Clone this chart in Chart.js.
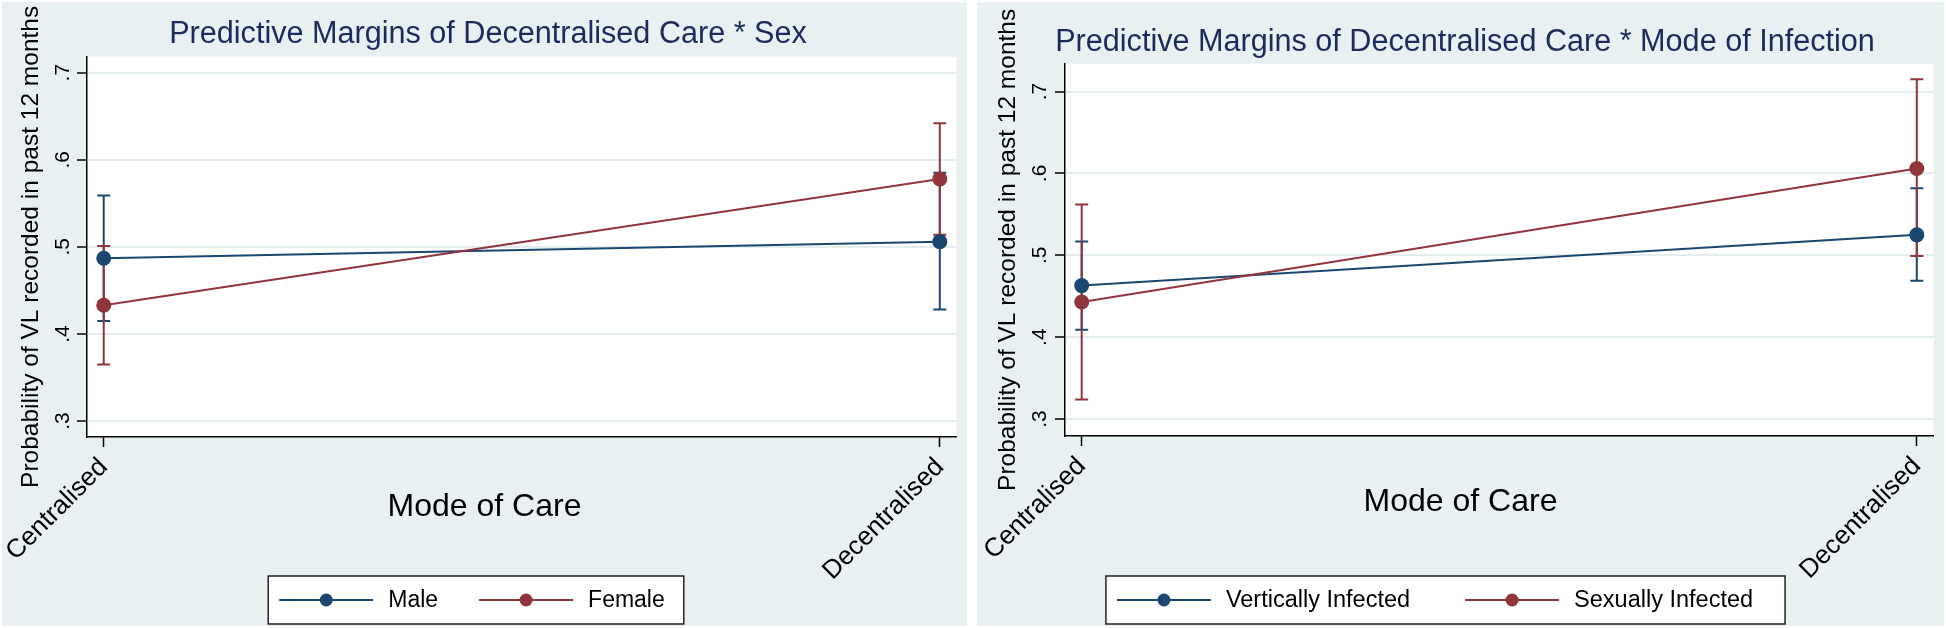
<!DOCTYPE html>
<html>
<head>
<meta charset="utf-8">
<script src="https://cdn.jsdelivr.net/npm/chart.js@4.4.0/dist/chart.umd.min.js"></script>
<style>
html, body { margin: 0; padding: 0; background: #fff; }
body { width: 1946px; height: 628px; position: relative; overflow: hidden; }
.panel { position: absolute; top: 2px; height: 624px; }
#sexPanel { left: 2px; width: 965px; }
#infectionPanel { left: 977px; width: 967px; }
</style>
</head>
<body>
<div class="panel" id="sexPanel"><canvas id="sexChart"></canvas></div>
<div class="panel" id="infectionPanel"><canvas id="infectionChart"></canvas></div>
<script>
// categories and tick labels
var careLevels = ['Centralised', 'Decentralised'];
var yTickValues = [0.3, 0.4, 0.5, 0.6, 0.7];
var yTickLabels = ['.3', '.4', '.5', '.6', '.7'];

// left panel: sex
var sexGroups = ['Male', 'Female'];
var sexMargins = [[0.487, 0.506], [0.433, 0.578]];
var sexLower   = [[0.415, 0.428], [0.365, 0.514]];
var sexUpper   = [[0.559, 0.585], [0.501, 0.642]];

// right panel: mode of infection
var infectionGroups = ['Vertically Infected', 'Sexually Infected'];
var infectionMargins = [[0.463, 0.525], [0.443, 0.606]];
var infectionLower   = [[0.409, 0.469], [0.324, 0.499]];
var infectionUpper   = [[0.517, 0.582], [0.562, 0.715]];

var seriesColors = ['#1a476f', '#90353b'];
var fontFamily = "'Liberation Sans', Arial, Helvetica, sans-serif";
Chart.defaults.font.family = fontFamily;

// background, white plot region, x axis title and the framed legend (line + marker keys)
var panelDecor = {
    id: 'panelDecor',
    beforeDraw: function(chart) {
        var ctx = chart.ctx, a = chart.chartArea;
        ctx.save();
        ctx.fillStyle = '#e8f0f2';
        ctx.fillRect(0, 0, chart.width, chart.height);
        ctx.fillStyle = '#ffffff';
        ctx.fillRect(a.left, a.top, a.right - a.left, a.bottom - a.top);
        ctx.restore();
    },
    afterDraw: function(chart, args, opts) {
        var ctx = chart.ctx;
        ctx.save();
        ctx.fillStyle = '#000';
        ctx.font = '32px ' + fontFamily;
        ctx.textAlign = 'center';
        ctx.textBaseline = 'middle';
        ctx.fillText(opts.xTitle, chart.width / 2, chart.chartArea.bottom + opts.xTitleOffset);

        // legend
        var keyLen = 94, keyGap = 15;
        var mains = chart.data.datasets.filter(d => d.isMain);
        ctx.font = opts.legendFont + 'px ' + fontFamily;
        var widths = mains.map(d => keyLen + keyGap + ctx.measureText(d.label).width);
        var total = widths.reduce((s, w) => s + w, 0) + opts.legendGap * (mains.length - 1);
        var x = opts.legendCenter - total / 2, cy = opts.legendY;
        var bx = x - 11, bw = total + 11 + opts.boxRight;
        ctx.fillStyle = '#fff';
        ctx.fillRect(bx, cy - 24, bw, 48);
        ctx.strokeStyle = '#222';
        ctx.lineWidth = 1.5;
        ctx.strokeRect(bx, cy - 24, bw, 48);
        mains.forEach(function(d, k) {
            ctx.strokeStyle = d.borderColor;
            ctx.lineWidth = 2;
            ctx.beginPath(); ctx.moveTo(x, cy); ctx.lineTo(x + keyLen, cy); ctx.stroke();
            ctx.fillStyle = d.borderColor;
            ctx.beginPath(); ctx.arc(x + keyLen / 2, cy, 6.5, 0, Math.PI * 2); ctx.fill();
            ctx.fillStyle = '#000';
            ctx.textAlign = 'left';
            ctx.fillText(d.label, x + keyLen + keyGap, cy + 1);
            x += widths[k] + opts.legendGap;
        });
        ctx.restore();
    }
};

function makeChart(canvasId, cfg) {
    var datasets = [];
    // main series first so they are drawn over the confidence intervals
    for (let s = 0; s < cfg.groups.length; s++) {
        datasets.push({
            label: cfg.groups[s],
            isMain: true,
            order: cfg.groups.length - 1 - s,
            data: careLevels.map((c, i) => ({x: i, y: cfg.margins[s][i]})),
            borderColor: seriesColors[s],
            backgroundColor: seriesColors[s],
            borderWidth: 2,
            pointRadius: 7.5,
            pointBorderWidth: 0
        });
    }
    for (let s = 0; s < cfg.groups.length; s++) {
        for (let i = 0; i < careLevels.length; i++) {
            datasets.push({
                label: cfg.groups[s] + ' CI',
                isMain: false,
                order: 10 + cfg.groups.length - 1 - s,
                data: [{x: i, y: cfg.lower[s][i]}, {x: i, y: cfg.upper[s][i]}],
                borderColor: seriesColors[s],
                borderWidth: 2,
                pointStyle: 'line',
                pointRadius: 6.5,
                pointBorderWidth: 2,
                pointBorderColor: seriesColors[s]
            });
        }
    }

    return new Chart(document.getElementById(canvasId), {
        type: 'line',
        data: {datasets: datasets},
        plugins: [panelDecor],
        options: {
            responsive: true,
            maintainAspectRatio: false,
            animation: false,
            events: [],
            layout: {autoPadding: false, padding: {left: cfg.padLeft, right: 7, top: 0, bottom: 0}},
            scales: {
                x: {
                    type: 'linear',
                    min: -0.02,
                    max: 1.02,
                    afterBuildTicks: function(scale) { scale.ticks = careLevels.map((c, i) => ({value: i})); },
                    afterFit: function(scale) { scale.height = cfg.xAxisHeight; },
                    ticks: {
                        autoSkip: false,
                        minRotation: 45,
                        maxRotation: 45,
                        padding: 5,
                        color: '#000',
                        font: {size: 26},
                        callback: function(v) { return careLevels[v]; }
                    },
                    grid: {drawOnChartArea: false, tickLength: 10, tickColor: '#000', tickWidth: 1.5},
                    border: {color: '#000', width: 1.5}
                },
                y: {
                    type: 'linear',
                    min: cfg.yMin,
                    max: cfg.yMax,
                    afterBuildTicks: function(scale) { scale.ticks = yTickValues.map(v => ({value: v})); },
                    afterFit: function(scale) { scale.width = cfg.yAxisWidth; },
                    ticks: {
                        minRotation: 90,
                        maxRotation: 90,
                        crossAlign: 'center',
                        padding: cfg.yTickPad,
                        color: '#000',
                        font: {size: 21},
                        callback: function(v) { return yTickLabels[yTickValues.indexOf(v)]; }
                    },
                    grid: {color: '#e3ecef', lineWidth: 2, tickLength: 10, tickColor: '#000', tickWidth: 1.5},
                    border: {color: '#000', width: 1.5},
                    title: {
                        display: true,
                        text: 'Probability of VL recorded in past 12 months',
                        color: '#000',
                        font: {size: 24.5},
                        padding: {top: cfg.yTitlePad, bottom: 0}
                    }
                }
            },
            plugins: {
                title: {
                    display: true,
                    text: cfg.title,
                    color: '#1c2b5a',
                    font: {size: 30.6, weight: 'normal'},
                    padding: cfg.titlePad
                },
                legend: {display: false},
                tooltip: {enabled: false},
                panelDecor: {
                    xTitle: 'Mode of Care',
                    xTitleOffset: cfg.xTitleOffset,
                    legendCenter: cfg.legendCenter,
                    legendY: 598,
                    legendGap: cfg.legendGap,
                    legendFont: cfg.legendFont,
                    boxRight: cfg.boxRight
                }
            }
        }
    });
}

makeChart('sexChart', {
    title: 'Predictive Margins of Decentralised Care * Sex',
    groups: sexGroups, margins: sexMargins, lower: sexLower, upper: sexUpper,
    yMin: 0.2817, yMax: 0.7183,
    padLeft: 14, yAxisWidth: 71, yTickPad: 5, yTitlePad: 0.3,
    xAxisHeight: 189, xTitleOffset: 70,
    titlePad: {top: 14, bottom: 4},
    legendCenter: 470, legendGap: 41, legendFont: 23, boxRight: 19
});

makeChart('infectionChart', {
    title: 'Predictive Margins of Decentralised Care * Mode of Infection',
    groups: infectionGroups, margins: infectionMargins, lower: infectionLower, upper: infectionUpper,
    yMin: 0.2793, yMax: 0.734,
    padLeft: 16, yAxisWidth: 72, yTickPad: 6, yTitlePad: 0.3,
    xAxisHeight: 190, xTitleOffset: 66,
    titlePad: {top: 22, bottom: 3},
    legendCenter: 458, legendGap: 55, legendFont: 23.5, boxRight: 32
});
</script>
</body>
</html>
